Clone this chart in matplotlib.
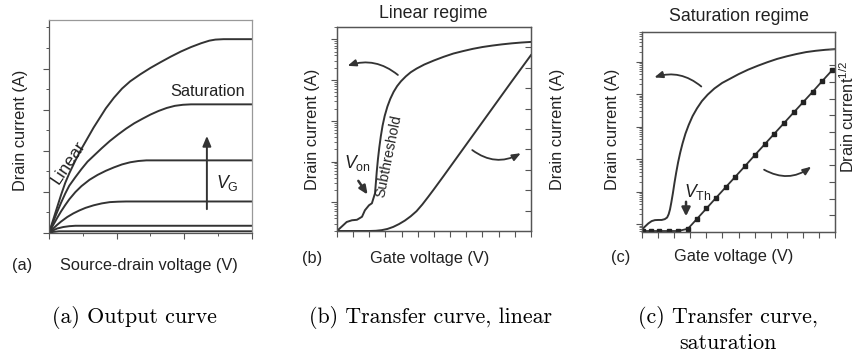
import numpy as np
import matplotlib
matplotlib.use("Agg")
import matplotlib.pyplot as plt
from matplotlib.ticker import FixedLocator, LogLocator, NullFormatter

plt.rcParams['font.family'] = ['Liberation Sans', 'DejaVu Sans']
plt.rcParams['mathtext.fontset'] = 'custom'
plt.rcParams['mathtext.rm'] = 'Liberation Sans'
plt.rcParams['mathtext.it'] = 'Liberation Sans:italic'
plt.rcParams['axes.formatter.use_mathtext'] = True

# ---------------- data: (a) output curves (one per gate voltage) ----------------
a_x1 = [0, 0.02, 0.04, 0.06, 0.08, 0.10, 0.13, 0.16, 0.19, 0.22, 0.25, 0.28, 0.32, 0.36,
        0.40, 0.45, 0.50, 0.55, 0.60, 0.65, 0.70, 0.75, 0.79, 0.82, 0.86, 1.0]
a_y1 = [0, 0.06, 0.12, 0.18, 0.235, 0.28, 0.34, 0.395, 0.445, 0.495, 0.54, 0.585, 0.635, 0.678,
        0.712, 0.745, 0.775, 0.802, 0.828, 0.852, 0.873, 0.891, 0.903, 0.908, 0.91, 0.91]
a_x2 = [0, 0.02, 0.04, 0.06, 0.08, 0.10, 0.13, 0.16, 0.19, 0.22, 0.26, 0.30, 0.34, 0.38,
        0.42, 0.46, 0.50, 0.54, 0.58, 0.62, 0.66, 0.70, 1.0]
a_y2 = [0, 0.05, 0.098, 0.143, 0.185, 0.222, 0.262, 0.30, 0.335, 0.362, 0.398, 0.432, 0.462, 0.49,
        0.515, 0.536, 0.556, 0.573, 0.587, 0.597, 0.602, 0.604, 0.604]
a_x3 = [0, 0.02, 0.04, 0.06, 0.08, 0.10, 0.13, 0.16, 0.20, 0.24, 0.28, 0.32, 0.36, 0.40, 0.44, 0.48, 1.0]
a_y3 = [0, 0.036, 0.07, 0.102, 0.131, 0.158, 0.192, 0.22, 0.25, 0.273, 0.292, 0.308, 0.322, 0.332,
        0.338, 0.341, 0.341]
a_x4 = [0, 0.02, 0.04, 0.06, 0.09, 0.12, 0.15, 0.18, 0.22, 0.26, 0.30, 0.34, 0.38, 1.0]
a_y4 = [0, 0.02, 0.038, 0.054, 0.075, 0.092, 0.106, 0.118, 0.13, 0.139, 0.145, 0.147, 0.148, 0.148]
a_x5 = [0, 0.02, 0.04, 0.07, 0.10, 0.13, 0.16, 1.0]
a_y5 = [0, 0.012, 0.021, 0.028, 0.032, 0.034, 0.034, 0.034]
a_x6 = [0, 0.02, 0.05, 1.0]
a_y6 = [0, 0.005, 0.008, 0.008]

# ---------------- data: (b) transfer curve, linear regime ----------------
b_vg = [0, 0.01, 0.026, 0.05, 0.077, 0.103, 0.129, 0.144, 0.165, 0.18, 0.196, 0.200, 0.205,
        0.211, 0.218, 0.226, 0.235, 0.246, 0.26, 0.275, 0.292, 0.31, 0.33, 0.355, 0.38, 0.41,
        0.45, 0.5, 0.55, 0.6, 0.65, 0.7, 0.75, 0.8, 0.85, 0.9, 0.95, 1.0]
b_log_id = [-11.705, -11.66, -11.59, -11.484, -11.442, -11.43, -11.356, -11.197, -11.074,
            -11.025, -10.78, -10.55, -10.25, -9.95, -9.66, -9.38, -9.12, -8.88, -8.65, -8.46,
            -8.29, -8.15, -8.03, -7.91, -7.81, -7.72, -7.62, -7.52, -7.43, -7.35, -7.29, -7.235,
            -7.19, -7.155, -7.125, -7.1, -7.08, -7.065]
b_vg_lin = [0, 0.17, 0.2, 0.23, 0.26, 0.29, 0.32, 0.35, 0.38, 0.41, 0.44, 0.47, 0.5, 0.55,
            0.6, 0.7, 0.8, 0.9, 1.0]
b_id_lin = [0, 0, 0.001, 0.004, 0.01, 0.02, 0.034, 0.051, 0.072, 0.097, 0.13, 0.167, 0.205,
            0.27, 0.336, 0.468, 0.6, 0.732, 0.862]

# ---------------- data: (c) transfer curve, saturation regime ----------------
c_vg = [0.0, 0.015, 0.033, 0.05, 0.067, 0.085, 0.102, 0.118, 0.13, 0.138, 0.145, 0.152, 0.16,
        0.168, 0.177, 0.187, 0.198, 0.21, 0.225, 0.242, 0.262, 0.285, 0.31, 0.34, 0.375, 0.415,
        0.456, 0.5, 0.55, 0.6, 0.65, 0.7, 0.75, 0.8, 0.85, 0.9, 0.95, 1.0]
c_log_id = [-12.17, -12.08, -11.98, -11.91, -11.88, -11.875, -11.875, -11.85, -11.8, -11.7,
            -11.55, -11.33, -11.05, -10.74, -10.42, -10.1, -9.8, -9.52, -9.22, -8.95, -8.68,
            -8.44, -8.22, -8.02, -7.83, -7.66, -7.53, -7.39, -7.25, -7.13, -7.02, -6.92, -6.84,
            -6.77, -6.71, -6.67, -6.64, -6.62]
c_vg_sqrt = [0.007, 0.045, 0.09, 0.141, 0.188, 0.238, 0.285, 0.334, 0.383, 0.435,
             0.482, 0.534, 0.585, 0.637, 0.686, 0.737, 0.789, 0.836, 0.885, 0.934, 0.986]
c_sqrt_id = [0.005, 0.005, 0.005, 0.005, 0.005, 0.0165, 0.066, 0.118, 0.1705, 0.2255,
             0.275, 0.33, 0.385, 0.44, 0.492, 0.546, 0.601, 0.6505, 0.702, 0.755, 0.81]

captions = ["(a) Output curve", "(b) Transfer curve, linear", "(c) Transfer curve,\nsaturation"]

LC = '#333333'
SPC = '#555555'
TC = '#222222'
FS = 11.8

fig = plt.figure(figsize=(8.59, 3.54), dpi=100)


def style_spines(ax):
    for s in ax.spines.values():
        s.set_color(SPC)
        s.set_linewidth(0.9)


# ---------------- panel (a) ----------------
axa = fig.add_axes([0.0570, 0.3418, 0.2363, 0.6017])
for xs, ys in [(a_x1, a_y1), (a_x2, a_y2), (a_x3, a_y3), (a_x4, a_y4), (a_x5, a_y5), (a_x6, a_y6)]:
    axa.plot(xs, ys, color=LC, lw=1.4, solid_capstyle='round', solid_joinstyle='round')
axa.set_xlim(0, 1)
axa.set_ylim(0, 1)
style_spines(axa)
axa.spines['top'].set_color('#999999')
axa.spines['right'].set_color('#999999')
axa.yaxis.set_major_locator(FixedLocator([0, 0.193, 0.386, 0.579, 0.772]))
axa.yaxis.set_minor_locator(FixedLocator([0.0965, 0.2895, 0.4825, 0.6755, 0.869, 0.965]))
axa.xaxis.set_major_locator(FixedLocator([0, 1/3, 2/3, 1]))
axa.xaxis.set_minor_locator(FixedLocator([1/6, 0.5, 5/6]))
axa.tick_params(which='both', direction='out', color=SPC, labelleft=False, labelbottom=False)
axa.tick_params(which='major', length=4, width=0.8)
axa.tick_params(which='minor', length=2.5, width=0.7)
axa.text(0.596, 0.662, "Saturation", fontsize=FS, ha='left', va='center', color=TC)
axa.text(0.0985, 0.332, "Linear", fontsize=FS + 0.8, rotation=56, ha='center', va='center', color=TC)
axa.annotate("", xy=(0.778, 0.469), xytext=(0.778, 0.099),
             arrowprops=dict(arrowstyle='-|>,head_length=0.6,head_width=0.25', color=LC, lw=1.4))
axa.text(0.825, 0.235, r"$\mathit{V}_{\mathrm{G}}$", fontsize=FS + 1, ha='left', va='center', color=TC)

fig.text(0.0241, 0.633, "Drain current (A)", rotation=90, fontsize=FS, ha='center', va='center', color=TC)
fig.text(0.1735, 0.2514, "Source-drain voltage (V)", fontsize=FS, ha='center', va='center', color=TC)
fig.text(0.0262, 0.2514, "(a)", fontsize=FS, ha='center', va='center', color=TC)

# ---------------- panel (b) ----------------
axb = fig.add_axes([0.3923, 0.3475, 0.2258, 0.5763])
axb.plot(b_vg, [10 ** v for v in b_log_id], color=LC, lw=1.4, solid_joinstyle='round')
axb.set_yscale('log')
axb.set_xlim(0, 1)
axb.set_ylim(10 ** -11.705, 10 ** -6.698)
axb.yaxis.set_major_locator(LogLocator(base=10, numticks=20))
axb.yaxis.set_minor_locator(LogLocator(base=10, subs=np.arange(2, 10), numticks=50))
axb.yaxis.set_minor_formatter(NullFormatter())
axb.xaxis.set_major_locator(FixedLocator(np.arange(0, 13) / 12))
axb.tick_params(which='both', direction='out', color=SPC, labelleft=False, labelbottom=False)
axb.tick_params(which='major', length=4, width=0.8)
axb.tick_params(which='minor', length=2.2, width=0.6)
style_spines(axb)
axb2 = axb.twinx()
axb2.plot(b_vg_lin, b_id_lin, color=LC, lw=1.4, solid_joinstyle='round')
axb2.set_ylim(0, 1)
axb2.yaxis.set_major_locator(FixedLocator(np.arange(1, 10) / 10))
axb2.tick_params(direction='in', length=4, width=0.8, color=SPC, labelright=False)
style_spines(axb2)

arrow_kw = dict(arrowstyle='-|>,head_length=0.5,head_width=0.2', color=LC, lw=1.3)
axb2.annotate("", xy=(0.041, 0.805), xytext=(0.325, 0.756),
              arrowprops=dict(connectionstyle='arc3,rad=0.3', **arrow_kw))
axb2.annotate("", xy=(0.96, 0.388), xytext=(0.686, 0.405),
              arrowprops=dict(connectionstyle='arc3,rad=0.35', **arrow_kw))
axb2.text(0.035, 0.332, r"$\mathit{V}_{\mathrm{on}}$", fontsize=FS + 1, ha='left', va='center', color=TC)
axb2.annotate("", xy=(0.166, 0.167), xytext=(0.102, 0.257),
              arrowprops=dict(arrowstyle='-|>,head_length=0.5,head_width=0.22', color=LC, lw=1.8))
axb2.text(0.268, 0.367, "Subthreshold", fontsize=10.2, rotation=78.5, ha='center', va='center', color=TC)

fig.text(0.3638, 0.634, "Drain current (A)", rotation=90, fontsize=FS, ha='center', va='center', color=TC)
fig.text(0.649, 0.634, "Drain current (A)", rotation=90, fontsize=FS, ha='center', va='center', color=TC)
fig.text(0.504, 0.963, "Linear regime", fontsize=FS + 1, ha='center', va='center', color=TC)
fig.text(0.5006, 0.271, "Gate voltage (V)", fontsize=FS, ha='center', va='center', color=TC)
fig.text(0.363, 0.271, "(b)", fontsize=FS, ha='center', va='center', color=TC)

# ---------------- panel (c) ----------------
axc = fig.add_axes([0.7474, 0.3446, 0.2247, 0.565])
axc.plot(c_vg, [10 ** v for v in c_log_id], color=LC, lw=1.4, solid_joinstyle='round')
axc.set_yscale('log')
axc.set_xlim(0, 1)
axc.set_ylim(10 ** -12.246, 10 ** -6.092)
axc.yaxis.set_major_locator(LogLocator(base=10, numticks=20))
axc.yaxis.set_minor_locator(LogLocator(base=10, subs=np.arange(2, 10), numticks=50))
axc.yaxis.set_minor_formatter(NullFormatter())
axc.xaxis.set_major_locator(FixedLocator(np.arange(0, 13) / 12))
axc.tick_params(which='both', direction='out', color=SPC, labelleft=False, labelbottom=False)
axc.tick_params(which='major', length=4, width=0.8)
axc.tick_params(which='minor', length=2.2, width=0.6)
style_spines(axc)
axc2 = axc.twinx()
axc2.plot(c_vg_sqrt, c_sqrt_id, color=LC, lw=1.3, marker='s', ms=3.2, mfc='#222', mec='#222')
axc2.set_ylim(0, 1)
axc2.yaxis.set_major_locator(FixedLocator(np.arange(1, 12) / 12))
axc2.tick_params(direction='in', length=4, width=0.8, color=SPC, labelright=False)
style_spines(axc2)
axc2.annotate("", xy=(0.05, 0.7685), xytext=(0.318, 0.7185),
              arrowprops=dict(connectionstyle='arc3,rad=0.3', **arrow_kw))
axc2.annotate("", xy=(0.888, 0.335), xytext=(0.62, 0.3185),
              arrowprops=dict(connectionstyle='arc3,rad=0.35', **arrow_kw))
axc2.text(0.22, 0.2, r"$\mathit{V}_{\mathrm{Th}}$", fontsize=FS + 1, ha='left', va='center', color=TC)
axc2.annotate("", xy=(0.228, 0.065), xytext=(0.228, 0.165),
              arrowprops=dict(arrowstyle='-|>,head_length=0.5,head_width=0.25', color=LC, lw=1.8))

fig.text(0.7136, 0.6356, "Drain current (A)", rotation=90, fontsize=FS, ha='center', va='center', color=TC)
fig.text(0.9865, 0.671, r"Drain current$^{1/2}$", rotation=90, fontsize=FS, ha='center', va='center', color=TC)
fig.text(0.86, 0.953, "Saturation regime", fontsize=FS + 1, ha='center', va='center', color=TC)
fig.text(0.8545, 0.275, "Gate voltage (V)", fontsize=FS, ha='center', va='center', color=TC)
fig.text(0.723, 0.274, "(c)", fontsize=FS, ha='center', va='center', color=TC)

# ---------------- captions ----------------
fig.text(0.156, 0.102, captions[0], family='cmr10', fontsize=15.8, ha='center', va='center')
fig.text(0.5006, 0.102, captions[1], family='cmr10', fontsize=15.8, ha='center', va='center')
fig.text(0.847, 0.069, captions[2], family='cmr10', fontsize=15.8, ha='center', va='center',
         linespacing=1.25, multialignment='center')

fig.savefig("out.png", dpi=100)
